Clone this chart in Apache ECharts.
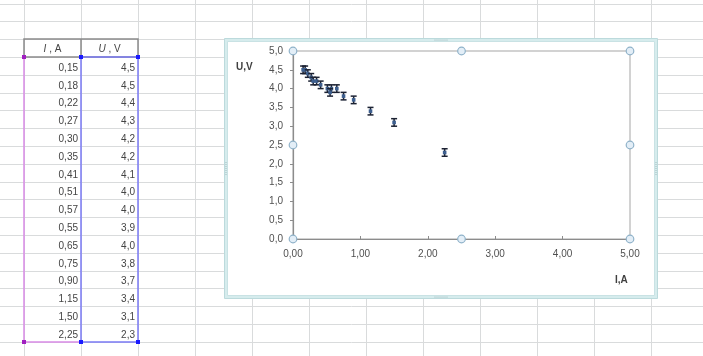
<!DOCTYPE html>
<html>
<head>
<meta charset="utf-8">
<script src="https://cdn.jsdelivr.net/npm/echarts@6/dist/echarts.min.js"></script>
<style>
  html, body { margin: 0; padding: 0; background: #fff; }
  #main { width: 703px; height: 356px; }
</style>
</head>
<body>
<div id="main"></div>
<script>
// Measured current and voltage
const currentA = [0.15, 0.18, 0.22, 0.27, 0.30, 0.35, 0.41, 0.51, 0.57, 0.55, 0.65, 0.75, 0.90, 1.15, 1.50, 2.25];
const voltageV = [4.5, 4.5, 4.4, 4.3, 4.2, 4.2, 4.1, 4.0, 4.0, 3.9, 4.0, 3.8, 3.7, 3.4, 3.1, 2.3];
const errorV = 0.1;
const headerI = 'I';
const headerU = 'U';
const xTitle = 'I,A';
const yTitle = 'U,V';

const fmt = (v, d) => v.toFixed(d).replace('.', ',');

// Sheet geometry
const colX0 = 24, colW = 57, rowY0 = 57, rowH = 17.8;
const W = 703, H = 356;
// Chart object frame and plot area
const frame = { x: 226, y: 40, w: 430, h: 257 };
const plot = { left: 293, top: 51, width: 337, height: 188 };
const FONT = '"Liberation Sans", Arial, sans-serif';

const els = [];
// cell grid lines
for (let k = -1; k <= 12; k++) {
  const x = colX0 + k * colW + 0.5;
  els.push({ type: 'line', z: -20, shape: { x1: x, y1: 0, x2: x, y2: H }, style: { stroke: '#d9dbdc', lineWidth: 1 } });
}
for (let k = -3; k <= 17; k++) {
  const y = Math.round(rowY0 + k * rowH) + 0.5;
  els.push({ type: 'line', z: -20, shape: { x1: 0, y1: y, x2: W, y2: y }, style: { stroke: '#d9dbdc', lineWidth: 1 } });
}
// table header box
const hdrTop = Math.round(rowY0 - rowH);
els.push({ type: 'rect', z: -15, shape: { x: colX0, y: hdrTop, width: colW * 2, height: rowY0 - hdrTop }, style: { fill: 'none', stroke: '#8a8a8a', lineWidth: 1.5 } });
els.push({ type: 'line', z: -15, shape: { x1: colX0 + colW, y1: hdrTop, x2: colX0 + colW, y2: rowY0 }, style: { stroke: '#8a8a8a', lineWidth: 1.5 } });
const cellFont = '10px ' + FONT;
const richI = { i: { fontStyle: 'italic', fontSize: 10, fontFamily: 'Liberation Sans', color: '#444' } };
els.push({ type: 'text', z: -14, style: { x: colX0 + colW / 2, y: (hdrTop + rowY0) / 2 + 1, text: '{i|' + headerI + '} , A', align: 'center', verticalAlign: 'middle', font: cellFont, fill: '#444', rich: richI } });
els.push({ type: 'text', z: -14, style: { x: colX0 + colW * 1.5, y: (hdrTop + rowY0) / 2 + 1, text: '{i|' + headerU + '} , V', align: 'center', verticalAlign: 'middle', font: cellFont, fill: '#444', rich: richI } });
// table values
currentA.forEach((v, i) => {
  const y = rowY0 + i * rowH + 11;
  els.push({ type: 'text', z: -14, style: { x: colX0 + colW - 3, y, text: fmt(v, 2), align: 'right', verticalAlign: 'middle', font: cellFont, fill: '#444' } });
  els.push({ type: 'text', z: -14, style: { x: colX0 + colW * 2 - 3, y, text: fmt(voltageV[i], 1), align: 'right', verticalAlign: 'middle', font: cellFont, fill: '#444' } });
});
// series range highlight (pink for X, blue for Y)
const tblBottom = Math.round(rowY0 + currentA.length * rowH);
els.push({ type: 'polyline', z: -13, shape: { points: [[colX0, rowY0], [colX0, tblBottom], [colX0 + colW, tblBottom]] }, style: { fill: 'none', stroke: '#d98ce6', lineWidth: 1.5 } });
els.push({ type: 'rect', z: -12, shape: { x: colX0 + colW, y: rowY0, width: colW, height: tblBottom - rowY0 }, style: { fill: 'none', stroke: '#7b7bf5', lineWidth: 1.5 } });
[[colX0, rowY0, '#a020c0'], [colX0, tblBottom, '#a020c0'], [colX0 + colW, rowY0, '#1a1aff'], [colX0 + colW, tblBottom, '#1a1aff'], [colX0 + colW * 2, rowY0, '#1a1aff'], [colX0 + colW * 2, tblBottom, '#1a1aff']].forEach(p => {
  els.push({ type: 'rect', z: -11, shape: { x: p[0] - 2, y: p[1] - 2, width: 4, height: 4 }, style: { fill: p[2] } });
});
// chart object: white body + selection border
els.push({ type: 'rect', z: -10, shape: { x: frame.x, y: frame.y, width: frame.w, height: frame.h }, style: { fill: '#ffffff', stroke: '#d6eced', lineWidth: 3 } });
els.push({ type: 'rect', z: -9, shape: { x: frame.x - 1.5, y: frame.y - 1.5, width: frame.w + 3, height: frame.h + 3 }, style: { fill: 'none', stroke: '#bcdadc', lineWidth: 1 } });
els.push({ type: 'rect', z: -9, shape: { x: frame.x + 1.5, y: frame.y + 1.5, width: frame.w - 3, height: frame.h - 3 }, style: { fill: 'none', stroke: '#c9e2e4', lineWidth: 1 } });
// grip marks on frame edges
const grip = (cx, cy, horiz) => {
  for (let i = -3; i <= 3; i++) {
    els.push({ type: 'circle', z: -8, shape: { cx: horiz ? cx + i * 2 : cx, cy: horiz ? cy : cy + i * 2, r: 0.6 }, style: { fill: '#9ab5b8' } });
  }
};
grip(frame.x + frame.w / 2, frame.y, true);
grip(frame.x + frame.w / 2, frame.y + frame.h, true);
grip(frame.x, frame.y + frame.h / 2, false);
grip(frame.x + frame.w, frame.y + frame.h / 2, false);
// axis titles
els.push({ type: 'text', z: 5, style: { x: 236, y: 67, text: yTitle, align: 'left', verticalAlign: 'middle', font: 'bold 10px ' + FONT, fill: '#404040' } });
els.push({ type: 'text', z: 5, style: { x: 615, y: 280, text: xTitle, align: 'left', verticalAlign: 'middle', font: 'bold 10px ' + FONT, fill: '#404040' } });
// plot-area handles
const hx = [plot.left, plot.left + plot.width / 2, plot.left + plot.width];
const hy = [plot.top, plot.top + plot.height / 2, plot.top + plot.height];
hx.forEach((x, i) => hy.forEach((y, j) => {
  if (i === 1 && j === 1) return;
  els.push({ type: 'circle', z: 20, shape: { cx: x, cy: y, r: 3.8 }, style: { fill: '#e3eef7', stroke: '#8fb2c9', lineWidth: 1.2 } });
}));

const chart = echarts.init(document.getElementById('main'), null, { renderer: 'canvas' });
chart.setOption({
  animation: false,
  backgroundColor: '#ffffff',
  graphic: { elements: els },
  grid: { left: plot.left, top: plot.top, width: plot.width, height: plot.height, show: true, borderColor: '#c4c4c4', borderWidth: 1.5, backgroundColor: 'transparent' },
  xAxis: {
    type: 'value', min: 0, max: 5, interval: 1,
    axisLine: { show: true, onZero: false, lineStyle: { color: '#8c8c8c', width: 1.2 } },
    axisTick: { show: true, inside: true, length: 3, lineStyle: { color: '#8c8c8c' } },
    splitLine: { show: false },
    axisLabel: { formatter: v => fmt(v, 2), color: '#505050', fontSize: 10, fontFamily: 'Liberation Sans', margin: 10 }
  },
  yAxis: {
    type: 'value', min: 0, max: 5, interval: 0.5,
    axisLine: { show: true, onZero: false, lineStyle: { color: '#8c8c8c', width: 1.2 } },
    axisTick: { show: true, inside: false, length: 3, lineStyle: { color: '#8c8c8c' } },
    splitLine: { show: false },
    axisLabel: { formatter: v => fmt(v, 1), color: '#505050', fontSize: 10, fontFamily: 'Liberation Sans', margin: 10 }
  },
  series: [{
    type: 'custom',
    z: 10,
    data: currentA.map((x, i) => [x, voltageV[i]]),
    renderItem: (params, api) => {
      const x = api.value(0), y = api.value(1);
      const lo = api.coord([x, y - errorV]);
      const hi = api.coord([x, y + errorV]);
      const c = api.coord([x, y]);
      const cap = 3;
      const stroke = { stroke: '#1c2233', lineWidth: 1.5 };
      return {
        type: 'group',
        children: [
          { type: 'line', shape: { x1: lo[0], y1: lo[1], x2: hi[0], y2: hi[1] }, style: stroke },
          { type: 'line', shape: { x1: lo[0] - cap, y1: lo[1], x2: lo[0] + cap, y2: lo[1] }, style: stroke },
          { type: 'line', shape: { x1: hi[0] - cap, y1: hi[1], x2: hi[0] + cap, y2: hi[1] }, style: stroke },
          { type: 'rect', shape: { x: c[0] - 1.8, y: c[1] - 1.8, width: 3.6, height: 3.6 }, style: { fill: '#3d5f8f' } }
        ]
      };
    }
  }]
});
</script>
</body>
</html>
